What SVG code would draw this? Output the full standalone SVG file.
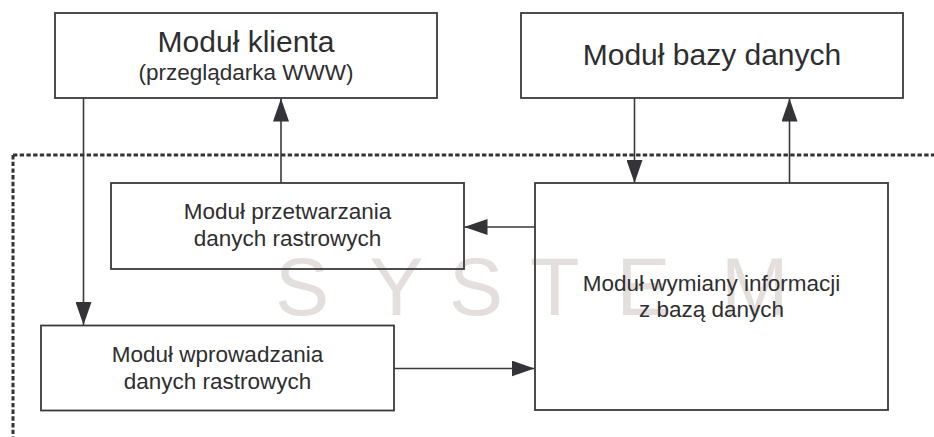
<svg xmlns="http://www.w3.org/2000/svg" width="934" height="437" viewBox="0 0 934 437">
  <defs>
    <style>
      .box { fill: none; stroke: #3a3a3c; stroke-width: 1.8; }
      .big { font-family: "Liberation Sans", Arial, sans-serif; font-size: 30px; fill: #2e2e30; text-anchor: middle; }
      .lbl { font-family: "Liberation Sans", Arial, sans-serif; font-size: 22.5px; fill: #2e2e30; text-anchor: middle; }
      .wm { font-family: "Liberation Sans", Arial, sans-serif; font-size: 81px; fill: #e4dfdd; }
      .conn { stroke: #3a3a3c; stroke-width: 1.6; fill: none; }
      .dash { stroke: #333336; stroke-width: 3; fill: none; stroke-dasharray: 4.4 2.3; }
    </style>
    <marker id="arr" viewBox="0 0 23 16" refX="23" refY="8" markerWidth="23" markerHeight="16" markerUnits="userSpaceOnUse" orient="auto">
      <path d="M0,0 L23,8 L0,16 Z" fill="#333338"/>
    </marker>
  </defs>
  <rect width="934" height="437" fill="#ffffff"/>

  <g id="watermark">
    <text class="wm" x="275 369.5 449 530 616.6 721" y="315">SYSTEM</text>
  </g>

  <g id="system-boundary">
    <path class="dash" d="M13,155 H934"/>
    <path class="dash" d="M13,155 V437"/>
  </g>

  <g id="connectors">
    <path class="conn" d="M83.5,98 V325" marker-end="url(#arr)"/>
    <path class="conn" d="M281,183 V98.5" marker-end="url(#arr)"/>
    <path class="conn" d="M634.5,98 V183" marker-end="url(#arr)"/>
    <path class="conn" d="M789.5,183 V98.5" marker-end="url(#arr)"/>
    <path class="conn" d="M535,227 H464.5" marker-end="url(#arr)"/>
    <path class="conn" d="M394,368.5 H534.5" marker-end="url(#arr)"/>
  </g>

  <g id="modul-klienta">
    <rect class="box" x="55" y="13" width="382" height="85"/>
    <text class="big" x="246" y="52">Moduł klienta</text>
    <text class="lbl" x="246" y="80">(przeglądarka WWW)</text>
  </g>

  <g id="modul-bazy-danych">
    <rect class="box" x="521" y="13" width="382" height="85"/>
    <text class="big" x="712" y="65">Moduł bazy danych</text>
  </g>

  <g id="modul-przetwarzania">
    <rect class="box" x="111" y="183" width="353" height="86"/>
    <text class="lbl" x="287.5" y="219">Moduł przetwarzania</text>
    <text class="lbl" x="287.5" y="246">danych rastrowych</text>
  </g>

  <g id="modul-wprowadzania">
    <rect class="box" x="41" y="325.5" width="353" height="85"/>
    <text class="lbl" x="217.5" y="362">Moduł wprowadzania</text>
    <text class="lbl" x="217.5" y="388.5">danych rastrowych</text>
  </g>

  <g id="modul-wymiany">
    <rect class="box" x="535" y="183" width="353" height="227"/>
    <text class="lbl" x="711.5" y="290.5">Moduł wymiany informacji</text>
    <text class="lbl" x="711.5" y="317">z bazą danych</text>
  </g>
</svg>
